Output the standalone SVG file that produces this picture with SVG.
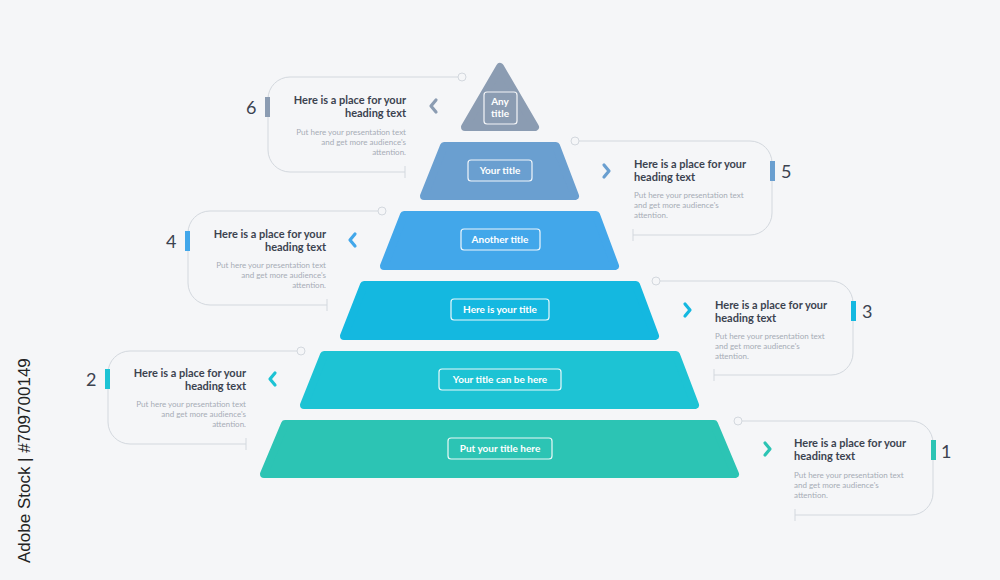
<svg xmlns="http://www.w3.org/2000/svg" width="1000" height="580" viewBox="0 0 1000 580">
<style>
.tier{stroke-linejoin:round;stroke-width:8}
.lbl{fill:none;stroke:#fff;stroke-width:1.2;opacity:.9}
.lt{font-family:"Lato","Liberation Sans",sans-serif;font-weight:700;font-size:10px;fill:#fff;text-anchor:middle}
.frame{fill:none;stroke:#d3d8de;stroke-width:1}
.h{font-family:"Lato","Liberation Sans",sans-serif;font-weight:700;font-size:11px;fill:#3c4350}
.b{font-family:"Lato","Liberation Sans",sans-serif;font-size:8px;fill:#a6acb6}
.n{font-family:"Lato","Liberation Sans",sans-serif;font-size:18px;fill:#3c4350}
.ch{fill:none;stroke-width:3.2;stroke-linecap:round;stroke-linejoin:round}
.r{text-anchor:end}
</style>
<rect width="1000" height="580" fill="#f5f6f8"/>
<text transform="translate(30,563) rotate(-90)" font-family="Liberation Sans,sans-serif" font-size="17" fill="#222">Adobe Stock | #709700149</text>
<g id="connectors">
<g class="frame">
<path d="M458 77H290a22 22 0 0 0-22 22v51a22 22 0 0 0 22 22H405M405 166v12"/>
<circle cx="462" cy="77" r="4" fill="#f5f6f8"/>
<path d="M378 211H210a22 22 0 0 0-22 22v50a22 22 0 0 0 22 22H327M327 299v12"/>
<circle cx="382" cy="211" r="4" fill="#f5f6f8"/>
<path d="M297 351H130a22 22 0 0 0-22 22v49a22 22 0 0 0 22 22H246M246 438v12"/>
<circle cx="301" cy="351" r="4" fill="#f5f6f8"/>
<path d="M579 141H750a22 22 0 0 1 22 22v50a22 22 0 0 1-22 22H633M633 229v12"/>
<circle cx="575" cy="141" r="4" fill="#f5f6f8"/>
<path d="M660 281H831a22 22 0 0 1 22 22v50a22 22 0 0 1-22 22H714M714 369v12"/>
<circle cx="656" cy="281" r="4" fill="#f5f6f8"/>
<path d="M742 421H911a22 22 0 0 1 22 22v50a22 22 0 0 1-22 22H795M795 509v12"/>
<circle cx="738" cy="421" r="4" fill="#f5f6f8"/>
</g>
</g>
<g id="tier1"><path class="tier" d="M285 424H714L735 474H264Z" fill="#2cc4b4" stroke="#2cc4b4"/><rect class="lbl" x="448" y="438" width="104" height="21" rx="3"/><text class="lt" x="500" y="452">Put your title here</text></g>
<g id="tier2"><path class="tier" d="M324 355H676L695 405H304Z" fill="#1dc3d4" stroke="#1dc3d4"/><rect class="lbl" x="439" y="369" width="122" height="21" rx="3"/><text class="lt" x="500" y="383">Your title can be here</text></g>
<g id="tier3"><path class="tier" d="M364 285H636L655 336H344Z" fill="#14b8e0" stroke="#14b8e0"/><rect class="lbl" x="451" y="299" width="98" height="21" rx="3"/><text class="lt" x="500" y="313">Here is your title</text></g>
<g id="tier4"><path class="tier" d="M404 215H596L615 266H384Z" fill="#42a7ea" stroke="#42a7ea"/><rect class="lbl" x="461" y="229" width="79" height="21" rx="3"/><text class="lt" x="500" y="243">Another title</text></g>
<g id="tier5"><path class="tier" d="M444 146H556L575 196H424Z" fill="#6a9fd0" stroke="#6a9fd0"/><rect class="lbl" x="468" y="160" width="64" height="21" rx="3"/><text class="lt" x="500" y="174">Your title</text></g>
<g id="tier6"><path class="tier" d="M500 67L535 127H465Z" fill="#8b9cb2" stroke="#8b9cb2"/><rect class="lbl" x="484" y="92" width="33" height="32" rx="3"/><text class="lt" x="500" y="105">Any</text><text class="lt" x="500" y="117">title</text></g>
<g id="callout6"><text class="n" x="246" y="114">6</text><rect x="265" y="97" width="5" height="20" fill="#8b9cb2"/><text class="h r" x="406" y="104">Here is a place for your</text><text class="h r" x="406" y="117">heading text</text><text class="b r" x="406" y="135">Put here your presentation text</text><text class="b r" x="406" y="145">and get more audience's</text><text class="b r" x="406" y="155">attention.</text><path class="ch" d="M436 100L431 106L436 112" stroke="#8b9cb2"/></g>
<g id="callout4"><text class="n" x="166" y="248">4</text><rect x="185" y="231" width="5" height="20" fill="#42a7ea"/><text class="h r" x="326" y="238">Here is a place for your</text><text class="h r" x="326" y="251">heading text</text><text class="b r" x="326" y="268">Put here your presentation text</text><text class="b r" x="326" y="278">and get more audience's</text><text class="b r" x="326" y="288">attention.</text><path class="ch" d="M355 234L350 240L355 246" stroke="#42a7ea"/></g>
<g id="callout2"><text class="n" x="86" y="386">2</text><rect x="105" y="369" width="5" height="20" fill="#1dc3d4"/><text class="h r" x="246" y="377">Here is a place for your</text><text class="h r" x="246" y="390">heading text</text><text class="b r" x="246" y="407">Put here your presentation text</text><text class="b r" x="246" y="417">and get more audience's</text><text class="b r" x="246" y="427">attention.</text><path class="ch" d="M275 373L270 379L275 385" stroke="#1dc3d4"/></g>
<g id="callout5"><text class="n" x="781" y="178">5</text><rect x="770" y="161" width="5" height="20" fill="#6a9fd0"/><text class="h" x="634" y="168">Here is a place for your</text><text class="h" x="634" y="181">heading text</text><text class="b" x="634" y="198">Put here your presentation text</text><text class="b" x="634" y="208">and get more audience's</text><text class="b" x="634" y="218">attention.</text><path class="ch" d="M604 165L609 171L604 177" stroke="#6a9fd0"/></g>
<g id="callout3"><text class="n" x="862" y="318">3</text><rect x="851" y="301" width="5" height="20" fill="#14b8e0"/><text class="h" x="715" y="309">Here is a place for your</text><text class="h" x="715" y="322">heading text</text><text class="b" x="715" y="339">Put here your presentation text</text><text class="b" x="715" y="349">and get more audience's</text><text class="b" x="715" y="359">attention.</text><path class="ch" d="M685 304L690 310L685 316" stroke="#14b8e0"/></g>
<g id="callout1"><text class="n" x="941" y="458">1</text><rect x="931" y="440" width="5" height="20" fill="#2cc4b4"/><text class="h" x="794" y="447">Here is a place for your</text><text class="h" x="794" y="460">heading text</text><text class="b" x="794" y="478">Put here your presentation text</text><text class="b" x="794" y="488">and get more audience's</text><text class="b" x="794" y="498">attention.</text><path class="ch" d="M765 443L770 449L765 455" stroke="#2cc4b4"/></g>
</svg>
